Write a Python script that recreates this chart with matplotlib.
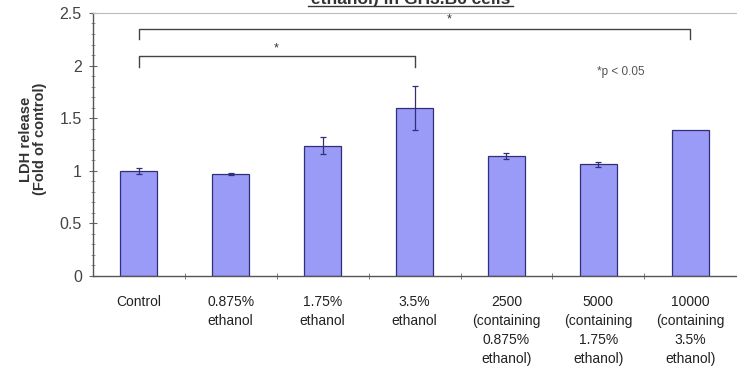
import numpy as np
import matplotlib.pyplot as plt
from matplotlib.lines import Line2D
from matplotlib.ticker import MultipleLocator, FixedLocator

plt.rcParams['font.family'] = ['Liberation Sans', 'DejaVu Sans']

# LDH release, fold of control
groups = ['Control', '0.875%\nethanol', '1.75%\nethanol', '3.5%\nethanol',
          '2500\n(containing\n0.875%\nethanol)', '5000\n(containing\n1.75%\nethanol)',
          '10000\n(containing\n3.5%\nethanol)']
ldh = [1.00, 0.97, 1.24, 1.60, 1.14, 1.06, 1.39]
sem = [0.03, 0.01, 0.08, 0.21, 0.03, 0.02, 0.0]

# significance brackets: (left group, right group, bracket height, drop)
brackets = [(0, 6, 2.35, 0.10), (0, 3, 2.09, 0.10)]
stars = [(3.38, 2.44), (1.49, 2.16)]

fig = plt.figure(figsize=(7.37, 3.70), dpi=100)
ax = fig.add_axes([0.126, 0.254, 0.873, 0.711])

x = np.arange(len(groups))
ax.bar(x, ldh, width=0.40, color='#9a9af7', edgecolor='#30307a', linewidth=0.9, zorder=2)
has_err = [i for i, e in enumerate(sem) if e > 0]
ax.errorbar(x[has_err], [ldh[i] for i in has_err], yerr=[sem[i] for i in has_err],
            fmt='none', ecolor='#30307a', elinewidth=0.9, capsize=2.5, capthick=0.9, zorder=3)

for a, b, h, d in brackets:
    ax.plot([a, a, b, b], [h - d, h, h, h - d], color='#444444', lw=1.0, zorder=1)
for sx, sy in stars:
    ax.text(sx, sy, '*', ha='center', va='center', fontsize=9, color='#333333')
ax.text(4.99, 1.94, '*p < 0.05', ha='left', va='center', fontsize=8.5, color='#555555')

ax.set_xlim(-0.5, 6.5)
ax.set_ylim(0, 2.5)
ax.yaxis.set_minor_locator(MultipleLocator(0.1))
ax.set_yticks([0, 0.5, 1, 1.5, 2, 2.5])
ax.set_yticklabels(['0', '0.5', '1', '1.5', '2', '2.5'], fontsize=11.5, color='#444444')
ax.set_xticks(x)
ax.set_xticklabels(groups, fontsize=10, color='#222222', linespacing=1.45)
ax.xaxis.set_minor_locator(FixedLocator(np.arange(0.5, 6.5, 1.0)))
ax.tick_params(axis='x', which='major', length=0, pad=14)
ax.tick_params(axis='x', which='minor', length=5, direction='inout', color='#666666')
ax.tick_params(axis='y', which='major', length=6, direction='inout', color='#666666', pad=5)
ax.tick_params(axis='y', which='minor', length=3, direction='inout', color='#888888')

ax.set_ylabel('LDH release\n(Fold of control)', fontsize=10.5, fontweight='bold',
              color='#333333', linespacing=1.0)
ax.yaxis.set_label_coords(-0.072, 0.52)

for side in ['left', 'bottom']:
    ax.spines[side].set_color('#555555')
    ax.spines[side].set_linewidth(1.0)
ax.spines['top'].set_color('#bbbbbb')
ax.spines['top'].set_linewidth(0.8)
ax.spines['right'].set_visible(False)

# title runs off the top of the figure
fig.text(0.557, 0.989, 'ethanol) in GH3.B6 cells', ha='center', va='baseline',
         fontsize=12.5, fontweight='bold', color='#333333')
fig.add_artist(Line2D([0.418, 0.696], [0.983, 0.983], color='#333333', lw=1.0,
                      transform=fig.transFigure))

fig.savefig('out.png', dpi=100, facecolor='white')
